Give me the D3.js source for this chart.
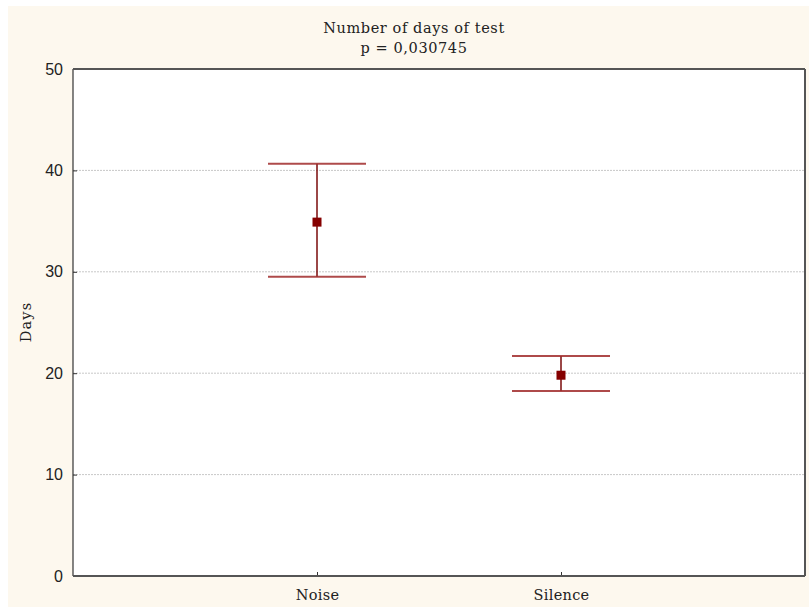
<!DOCTYPE html>
<html>
<head>
<meta charset="utf-8">
<script src="https://cdn.jsdelivr.net/npm/d3@7"></script>
<style>
  html, body { margin: 0; padding: 0; background: #ffffff; }
  svg { display: block; }
</style>
</head>
<body>
<script>
// Mean days of test per condition, with interval bounds
const groups = ["Noise", "Silence"];
const means = [34.9, 19.8];
const lower = [29.5, 18.25];
const upper = [40.65, 21.7];
const yTicks = [0, 10, 20, 30, 40, 50];
const titleLines = ["Number of days of test", "p = 0,030745"];
const yLabel = "Days";

const W = 809, H = 607;
const margin = { top: 69, right: 4, bottom: 31, left: 73 };
const iw = W - margin.left - margin.right;
const ih = H - margin.top - margin.bottom;

const svg = d3.select("body").append("svg")
  .attr("width", W).attr("height", H);

// cream panel with a thin white border on the top and left
svg.append("rect").attr("width", W).attr("height", H).attr("fill", "#ffffff");
svg.append("rect").attr("x", 8).attr("y", 6).attr("width", W - 8).attr("height", H - 6).attr("fill", "#fdf8ee");

const g = svg.append("g").attr("transform", `translate(${margin.left},${margin.top})`);

const x = d3.scalePoint().domain(groups).range([0, iw]).padding(1);
const y = d3.scaleLinear().domain([0, 50]).range([ih, 0]);

// plot area
g.append("rect").attr("width", iw).attr("height", ih).attr("fill", "#ffffff");

// dotted gridlines
g.selectAll(".grid").data(yTicks.filter(t => t > 0 && t < 50)).join("line")
  .attr("x1", 0).attr("x2", iw)
  .attr("y1", d => y(d)).attr("y2", d => y(d))
  .attr("stroke", "#c8c8c8").attr("stroke-width", 1)
  .attr("stroke-dasharray", "2,1");

// axes with inward ticks
const yAxis = g.append("g").call(d3.axisLeft(y).tickValues(yTicks).tickSizeInner(-4).tickSizeOuter(0).tickPadding(10));
yAxis.select(".domain").remove();
yAxis.selectAll(".tick line").attr("stroke", "#333");
yAxis.selectAll(".tick text")
  .attr("font-family", "Liberation Sans, Arial, sans-serif")
  .attr("font-size", 16).attr("fill", "#222");

const xAxis = g.append("g").attr("transform", `translate(0,${ih})`)
  .call(d3.axisBottom(x).tickSizeInner(-4).tickSizeOuter(0).tickPadding(0));
xAxis.select(".domain").remove();
xAxis.selectAll(".tick line").attr("stroke", "#333");
xAxis.selectAll(".tick text")
  .attr("dy", null).attr("y", 24)
  .attr("font-family", "DejaVu Serif, serif")
  .attr("font-size", 14.5).attr("letter-spacing", 0.3).attr("fill", "#222");

// frame
g.append("line").attr("x1", 0).attr("x2", 0).attr("y1", 0).attr("y2", ih)
  .attr("stroke", "#333").attr("stroke-width", 1.2);
g.append("line").attr("x1", 0).attr("x2", iw).attr("y1", 0).attr("y2", 0)
  .attr("stroke", "#555").attr("stroke-width", 2);
g.append("line").attr("x1", iw).attr("x2", iw).attr("y1", 0).attr("y2", ih)
  .attr("stroke", "#555").attr("stroke-width", 2);
g.append("line").attr("x1", 0).attr("x2", iw).attr("y1", ih).attr("y2", ih)
  .attr("stroke", "#555").attr("stroke-width", 2);

// error bars
const capHalf = 49;
const rows = groups.map((k, i) => ({ k, m: means[i], lo: lower[i], hi: upper[i] }));
const bars = g.selectAll(".bar").data(rows).join("g");
bars.append("line")
  .attr("x1", d => x(d.k)).attr("x2", d => x(d.k))
  .attr("y1", d => y(d.hi)).attr("y2", d => y(d.lo))
  .attr("stroke", "#7a0a0a").attr("stroke-width", 1.5);
bars.selectAll(".cap").data(d => [d.hi, d.lo].map(v => ({ k: d.k, v }))).join("line")
  .attr("x1", d => x(d.k) - capHalf).attr("x2", d => x(d.k) + capHalf)
  .attr("y1", d => y(d.v)).attr("y2", d => y(d.v))
  .attr("stroke", "#a02a2a").attr("stroke-width", 2).attr("stroke-opacity", 0.85);
bars.append("rect")
  .attr("x", d => x(d.k) - 4.5).attr("y", d => y(d.m) - 4.5)
  .attr("width", 9).attr("height", 9)
  .attr("fill", "#850000");

// title
svg.selectAll(".title").data(titleLines).join("text")
  .attr("x", 414).attr("y", (d, i) => 33 + i * 19.5)
  .attr("text-anchor", "middle")
  .attr("font-family", "DejaVu Serif, serif")
  .attr("font-size", 14.5).attr("letter-spacing", 0.6).attr("fill", "#222")
  .text(d => d);

// y label
svg.append("text")
  .attr("transform", "translate(31,322) rotate(-90)")
  .attr("text-anchor", "middle")
  .attr("font-family", "DejaVu Serif, serif")
  .attr("font-size", 14.5).attr("letter-spacing", 1.2).attr("fill", "#222")
  .text(yLabel);
</script>
</body>
</html>
